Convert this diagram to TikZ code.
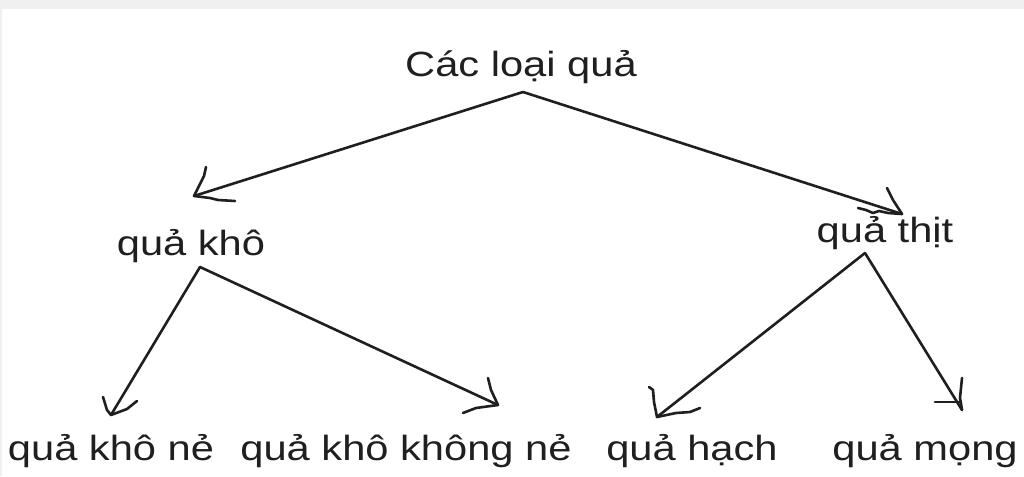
\documentclass[tikz,border=0pt]{standalone}
\usepackage{fontspec}
\setmainfont{Liberation Sans}[FakeStretch=1.19]
\begin{document}
\begin{tikzpicture}[x=1pt,y=-1pt,
  lbl/.style={inner sep=0pt, anchor=base, text=black!88, font=\fontsize{35}{40}\selectfont},
  pen/.style={draw=black!88, line width=2.6pt, line cap=round, line join=round}]
\useasboundingbox (0,0) rectangle (1024,476);
\fill[black!6] (0,0) rectangle (1024,476);
\fill[white] (2,9) rectangle (1024,476);
% labels
\node[lbl] (root) at (521,77) {Các loại quả};
\node[lbl] (kho) at (191,255) {quả khô};
\node[lbl] (thit) at (885,242) {quả thịt};
\node[lbl] (khone) at (111,460) {quả khô nẻ};
\node[lbl] (khokhong) at (406,460) {quả khô không nẻ};
\node[lbl] (hach) at (692,460) {quả hạch};
\node[lbl] (mong) at (925,460) {quả mọng};
% junction points under the labels
\coordinate (rootJ) at (523,92);
\coordinate (khoJ) at (200,267);
\coordinate (thitJ) at (865,253);
% arrow tips
\coordinate (tKho) at (194,196);
\coordinate (tThit) at (902,214);
\coordinate (tKhone) at (111,415);
\coordinate (tKhokhong) at (498,405);
\coordinate (tHach) at (657,417);
\coordinate (tMong) at (962,410);
% connectors
\draw[pen] (rootJ) -- (tKho);
\draw[pen] (rootJ) -- (tThit);
\draw[pen] (khoJ) -- (tKhone);
\draw[pen] (khoJ) -- (tKhokhong);
\draw[pen] (thitJ) -- (tHach);
\draw[pen] (thitJ) -- (tMong);
% hand-drawn heads
\draw[pen] (206,167) -- (204,176) -- (tKho) -- (210,198) -- (218,200) -- (235,201);
\draw[pen] (887,188) -- (893,200) -- (tThit);
\draw[pen] (858,208) -- (866,210) -- (873,213) -- (879,211) -- (888,213) -- (tThit);
\draw[pen] (103,397) -- (107,410) -- (tKhone) -- (127,409) -- (137,401);
\draw[pen] (488,378) -- (491,390) -- (tKhokhong) -- (476,408) -- (463,413);
\draw[pen] (649,387) -- (653,390) -- (654,402) -- (tHach) -- (676,413) -- (690,412) -- (700,408);
\draw[pen] (962,378) -- (960,398) -- (tMong);
\draw[pen] (935,402) -- (961,402);
\end{tikzpicture}
\end{document}
